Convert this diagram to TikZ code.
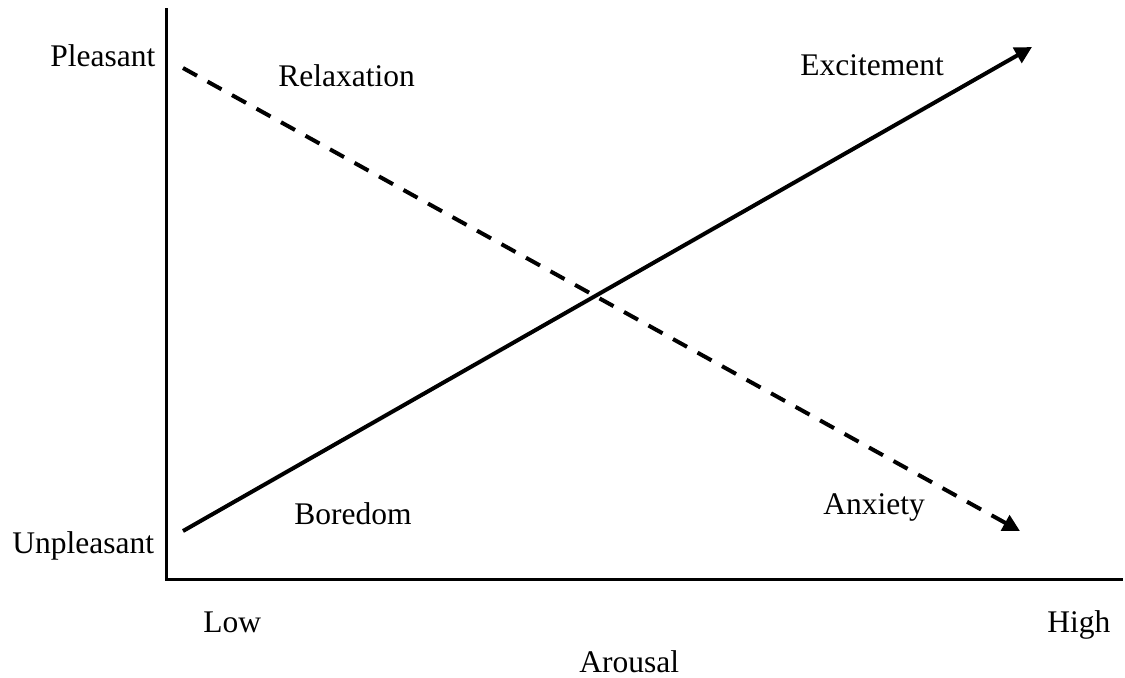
\documentclass[tikz,border=0pt]{standalone}
\usepackage{fontspec}
\setmainfont{Liberation Serif}
\usetikzlibrary{arrows.meta}
\begin{document}
\begin{tikzpicture}[x=0.5pt,y=-0.5pt,
  lbl/.style={inner sep=0pt,anchor=base west,font=\fontsize{15.75}{18}\selectfont},
  axisline/.style={line width=1.5pt},
  trend/.style={line width=2pt,-{Triangle[length=8.5pt,width=8.5pt]}},
  dashtrend/.style={trend,dash pattern=on 8pt off 6pt}]
\useasboundingbox (0,0) rectangle (1125,677);
% axes
\coordinate (ytop) at (166.5,8);
\coordinate (origin) at (166.5,579);
\coordinate (xend) at (1123,579);
\draw[axisline] (ytop) -- (origin) -- (xend);
% trend lines
\coordinate (s1) at (183,531);
\coordinate (e1) at (1032,47);
\coordinate (s2) at (183,68);
\coordinate (e2) at (1020,531);
\draw[trend] (s1) -- (e1);
\draw[dashtrend] (s2) -- (e2);
% labels
\node[lbl] (pleasant) at (50,66) {Pleasant};
\node[lbl] (unpleasant) at (12,553) {Unpleasant};
\node[lbl] (low) at (203,632) {Low};
\node[lbl] (high) at (1047,632) {High};
\node[lbl,text depth=0pt] (arousal) at (579,672) {Arousal};
\node[lbl] (relax) at (278,86) {Relaxation};
\node[lbl] (excite) at (800,75) {Excitement};
\node[lbl] (bored) at (294,524) {Boredom};
\node[lbl] (anx) at (823,514) {Anxiety};
\end{tikzpicture}
\end{document}
